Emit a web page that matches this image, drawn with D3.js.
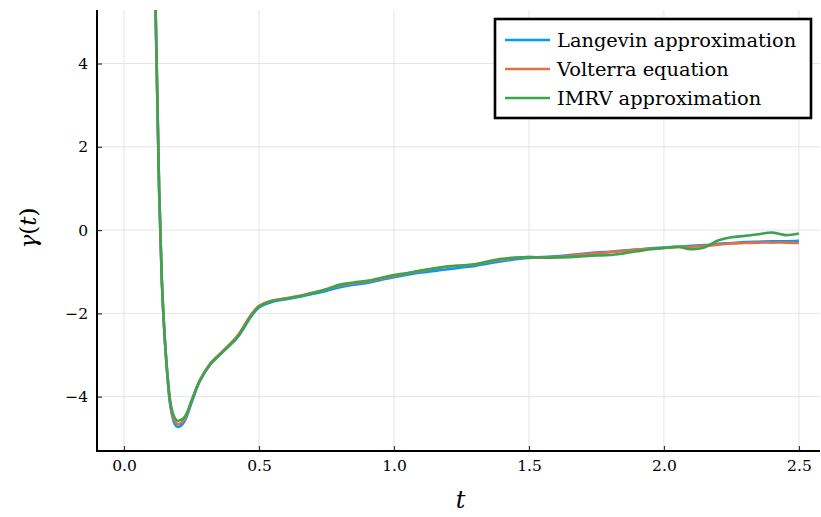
<!DOCTYPE html>
<html>
<head>
<meta charset="utf-8">
<script src="https://cdn.jsdelivr.net/npm/d3@7"></script>
<style>
  body { margin: 0; background: #fff; }
  text { font-family: "DejaVu Serif", "Liberation Serif", serif; }
</style>
</head>
<body>
<script>
// data
var times = [0.10,0.12,0.13,0.14,0.15,0.16,0.17,0.18,0.19,0.20,0.21,0.22,0.23,0.25,0.28,0.32,0.37,0.42,0.47,0.50,
  0.55,0.60,0.65,0.70,0.75,0.80,0.85,0.90,0.95,1.00,1.05,1.10,1.15,1.20,1.25,1.30,1.35,1.40,1.45,1.50,
  1.55,1.60,1.65,1.70,1.75,1.80,1.85,1.90,1.95,2.00,2.05,2.10,2.15,2.20,2.25,2.30,2.35,2.40,2.45,2.50];

var langevin = [11,4.3,1.0,-1.2,-2.5,-3.45,-4.15,-4.5,-4.68,-4.73,-4.7,-4.63,-4.52,-4.15,-3.64,-3.22,-2.9,-2.58,-2.08,-1.86,
  -1.72,-1.66,-1.6,-1.53,-1.46,-1.37,-1.31,-1.27,-1.2,-1.13,-1.07,-1.02,-0.98,-0.94,-0.9,-0.86,-0.8,-0.75,-0.7,-0.67,
  -0.65,-0.63,-0.6,-0.57,-0.54,-0.52,-0.49,-0.47,-0.44,-0.42,-0.4,-0.38,-0.36,-0.33,-0.31,-0.29,-0.28,-0.27,-0.27,-0.26];

var volterra = [11,4.3,1.0,-1.2,-2.5,-3.4,-4.1,-4.45,-4.6,-4.66,-4.64,-4.58,-4.47,-4.12,-3.62,-3.2,-2.88,-2.54,-2.04,-1.82,
  -1.69,-1.64,-1.58,-1.5,-1.42,-1.33,-1.28,-1.24,-1.17,-1.1,-1.04,-0.98,-0.93,-0.88,-0.85,-0.83,-0.76,-0.71,-0.67,-0.65,
  -0.66,-0.65,-0.62,-0.58,-0.56,-0.53,-0.5,-0.47,-0.45,-0.43,-0.41,-0.4,-0.38,-0.35,-0.32,-0.31,-0.3,-0.3,-0.3,-0.31];

var imrv = [11,4.3,1.0,-1.2,-2.5,-3.4,-4.05,-4.38,-4.53,-4.58,-4.56,-4.52,-4.43,-4.1,-3.62,-3.22,-2.9,-2.57,-2.07,-1.84,
  -1.7,-1.65,-1.59,-1.51,-1.42,-1.31,-1.26,-1.22,-1.15,-1.08,-1.03,-0.97,-0.92,-0.87,-0.85,-0.82,-0.75,-0.69,-0.66,-0.65,
  -0.66,-0.66,-0.65,-0.63,-0.61,-0.6,-0.56,-0.51,-0.46,-0.43,-0.4,-0.46,-0.42,-0.25,-0.17,-0.14,-0.1,-0.06,-0.12,-0.08];

var seriesNames = ['Langevin approximation', 'Volterra equation', 'IMRV approximation'];
var seriesColors = ['#009af9', '#e26f46', '#3da44d'];
var xTicks = [0, 0.5, 1, 1.5, 2, 2.5];
var yTicks = [-4, -2, 0, 2, 4];

var W = 821, H = 517;
var padL = 97, padR = 820, padT = 10, padB = 451;

var svg = d3.select('body').append('svg')
    .attr('width', W)
    .attr('height', H);

var x = d3.scaleLinear().domain([-0.1, 2.578]).range([padL, padR]);
var y = d3.scaleLinear().domain([-5.305, 5.285]).range([padB, padT]);

svg.append('clipPath').attr('id', 'plotclip')
  .append('rect')
    .attr('x', padL)
    .attr('y', padT)
    .attr('width', padR - padL)
    .attr('height', padB - padT);

// grid
svg.append('g').selectAll('line')
  .data(xTicks).enter().append('line')
    .attr('x1', d => x(d)).attr('x2', d => x(d))
    .attr('y1', padT).attr('y2', padB)
    .attr('stroke', '#e5e5e5').attr('stroke-width', 1);

svg.append('g').selectAll('line')
  .data(yTicks).enter().append('line')
    .attr('x1', padL).attr('x2', padR)
    .attr('y1', d => y(d)).attr('y2', d => y(d))
    .attr('stroke', '#e5e5e5').attr('stroke-width', 1);

// curves
var line = d3.line()
    .x((d, i) => x(times[i]))
    .y(d => y(d))
    .curve(d3.curveCatmullRom.alpha(0.5));

var allSeries = [langevin, volterra, imrv];
svg.append('g').attr('clip-path', 'url(#plotclip)')
  .selectAll('path')
  .data(allSeries).enter().append('path')
    .attr('d', d => line(d))
    .attr('fill', 'none')
    .attr('stroke', (d, i) => seriesColors[i])
    .attr('stroke-width', 2.6)
    .attr('stroke-linejoin', 'round');

// axes
var xAxis = svg.append('g')
    .attr('transform', 'translate(0,' + padB + ')')
    .call(d3.axisBottom(x).tickValues(xTicks).tickFormat(d3.format('.1f')).tickSizeInner(-5).tickSizeOuter(0).tickPadding(9));

var yAxis = svg.append('g')
    .attr('transform', 'translate(' + padL + ',0)')
    .call(d3.axisLeft(y).tickValues(yTicks).tickFormat(d => d < 0 ? '\u2212' + Math.abs(d) : d).tickSizeInner(-5).tickSizeOuter(0).tickPadding(9));

[xAxis, yAxis].forEach(function(a) {
  a.select('.domain').remove();
  a.selectAll('.tick line').attr('stroke', '#333').attr('stroke-width', 1.2);
  a.selectAll('.tick text')
    .attr('font-family', '"DejaVu Serif", serif')
    .attr('font-size', 15.5)
    .attr('fill', '#000');
});

svg.append('line')
    .attr('x1', padL).attr('x2', padL)
    .attr('y1', padT).attr('y2', padB + 1)
    .attr('stroke', '#000').attr('stroke-width', 2);
svg.append('line')
    .attr('x1', padL - 1).attr('x2', padR)
    .attr('y1', padB).attr('y2', padB)
    .attr('stroke', '#000').attr('stroke-width', 2);

// axis titles
svg.append('text')
    .attr('x', (padL + padR) / 2 + 2)
    .attr('y', 508)
    .attr('text-anchor', 'middle')
    .attr('font-style', 'italic')
    .attr('font-size', 24)
    .text('t');

svg.append('text')
    .attr('transform', 'translate(36,228) rotate(-90)')
    .attr('text-anchor', 'middle')
    .attr('font-size', 23)
    .html('<tspan font-style="italic">\u03b3</tspan>(<tspan font-style="italic">t</tspan>)');

// legend
var legend = svg.append('g');
legend.append('rect')
    .attr('x', 495).attr('y', 19)
    .attr('width', 316).attr('height', 99)
    .attr('fill', '#fff')
    .attr('stroke', '#000').attr('stroke-width', 2.6);

var rows = legend.selectAll('g')
  .data(seriesNames).enter().append('g')
    .attr('transform', (d, i) => 'translate(0,' + (40 + i * 29) + ')');

rows.append('line')
    .attr('x1', 505).attr('x2', 550)
    .attr('stroke', (d, i) => seriesColors[i])
    .attr('stroke-width', 2.6);

rows.append('text')
    .attr('x', 557)
    .attr('y', 7)
    .attr('font-size', 19.4)
    .text(d => d);
</script>
</body>
</html>
